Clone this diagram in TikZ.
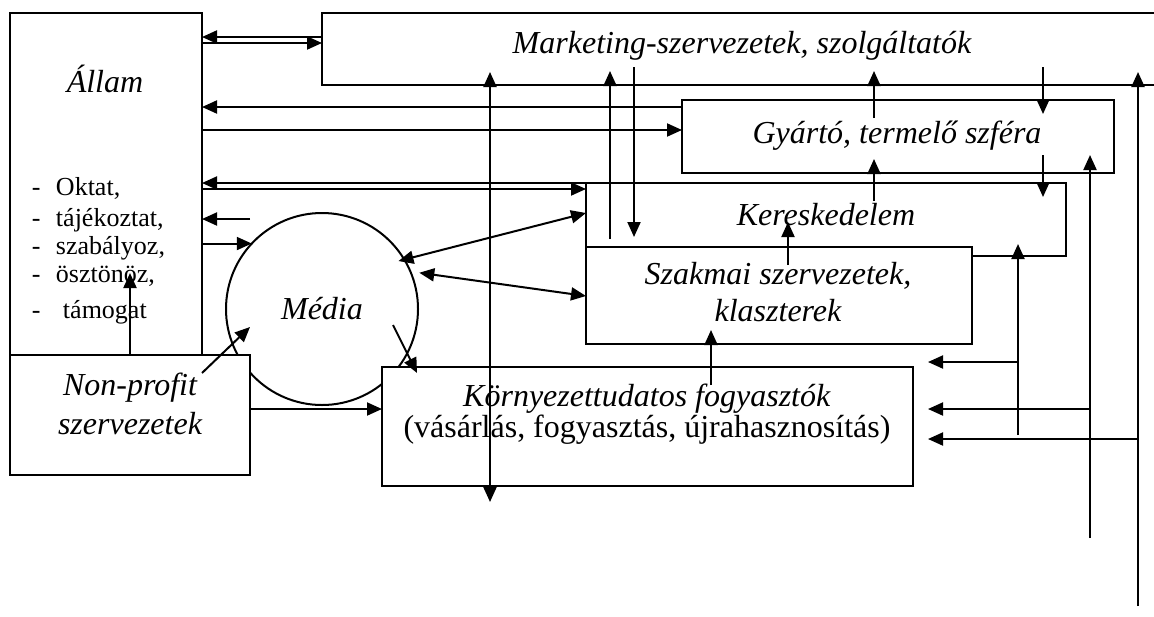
\documentclass[tikz,border=0pt]{standalone}
\usepackage{fontspec}
\setmainfont{Liberation Serif}
\usetikzlibrary{arrows.meta,fit}

\begin{document}
\begin{tikzpicture}[x=0.5pt, y=-0.5pt, line width=1pt, >={Triangle[length=7.5pt,width=6.5pt]}]
            \tikzset{Box/.style={draw, fill=white, inner sep=0pt, outer sep=0pt},
                     Txt/.style={font=\fontsize{16}{19.5}\selectfont\itshape, align=center},
                     Lst/.style={font=\fontsize{13}{15}\selectfont, anchor=base west, inner sep=0pt},
                     Link/.style={->, shorten <=-9pt, shorten >=-7pt}}
            \useasboundingbox (0,0) rectangle (1154,616);
            \node[Box, fit={(10,13) (202,475)}] (allam) {};
            \node[Box, fit={(322,13) (1180,85)}] (mark) {};
            \node[Box, fit={(682,100) (1114,173)}] (gyarto) {};
            \node[Box, fit={(586,183) (1066,256)}] (ker) {};
            \node[Box, fit={(586,247) (972,344)}] (szakmai) {};
            \node[Box, circle, minimum size=96pt, font=\fontsize{16}{19.5}\selectfont\itshape] (media) at (322,309) {Média};
            \node[Box, fit={(10,355) (250,475)}] (nonprofit) {};
            \node[Box, fit={(382,367) (913,486)}] (korny) {};
            \node[Txt] (allamtxt) at (105,79) {Állam};
            \node[Txt] (marktxt) at (742,46) {Marketing-szervezetek, szolgáltatók};
            \node[Txt] (gyartotxt) at (897,136) {Gyártó, termelő szféra};
            \node[Txt] (kertxt) at (826,215) {Kereskedelem};
            \node[Txt, font=\fontsize{16}{18.5}\selectfont\itshape] (szakmaitxt) at (778,292) {Szakmai szervezetek,\\klaszterek};
            \node[Txt] (nonproftxt) at (130,404) {Non-profit\\szervezetek};
            \node[Txt, font=\fontsize{16}{15.5}\selectfont] (kornytxt) at (647,414) {\textit{Környezettudatos fogyasztók}\\(vásárlás, fogyasztás, újrahasznosítás)};
            \node[Lst] (l1) at (31,195) {\makebox[12pt][l]{-}Oktat,};
            \node[Lst] (l2) at (31,226) {\makebox[12pt][l]{-}tájékoztat,};
            \node[Lst] (l3) at (31,254) {\makebox[12pt][l]{-}szabályoz,};
            \node[Lst] (l4) at (31,282) {\makebox[12pt][l]{-}ösztönöz,};
            \node[Lst] (l5) at (31,318) {\makebox[15.5pt][l]{-}támogat};
            \coordinate (tajek) at (250,219);
            \coordinate (r1) at (1018,435);
            \coordinate (r2) at (1090,538);
            \coordinate (r3) at (1138,606);
            \draw[->] (mark.west |- 0,37) -- (allam.east |- 0,37);
            \draw[->] (allam.east |- 0,43) -- (mark.west |- 0,43);
            \draw[->] (gyarto.west |- 0,107) -- (allam.east |- 0,107);
            \draw[->] (allam.east |- 0,130) -- (gyarto.west |- 0,130);
            \draw[->] (ker.west |- 0,183) -- (allam.east |- 0,183);
            \draw[->] (allam.east |- 0,189) -- (ker.west |- 0,189);
            \draw[->] (tajek) -- (allam.east |- tajek);
            \draw[->] (allam.east |- media.137) -- (media.137);
            \draw[->] (nonprofit.north) -- ++(0,-82);
            \draw[->] (nonprofit.north east) ++(-48,18) -- ++(48,-46);
            \draw[->] (nonprofit.east |- 0,409) -- (korny.west |- 0,409);
            \draw[->] (media.east) ++(-25,16) -- ++(24,48);
            \draw[<->, shorten >=-3pt] (ker.west |- 0,213) -- (media.31);
            \draw[<->, shorten >=4.5pt] (szakmai.west |- 0,296) -- (media.23);
            \draw[<->, shorten <=-6.5pt, shorten >=-8pt] (mark.south -| 490,0) -- (korny.south -| 490,0);
            \draw[->, shorten <=4pt, shorten >=-7pt] (szakmai.north -| 610,0) -- (mark.south -| 610,0);
            \draw[Link, shorten >=5pt] (mark.south -| 634,0) -- (szakmai.north -| 634,0);
            \draw[Link] (gyarto.north -| 874,0) -- (mark.south -| 874,0);
            \draw[Link] (mark.south -| 1043,0) -- (gyarto.north -| 1043,0);
            \draw[Link] (ker.north -| 874,0) -- (gyarto.south -| 874,0);
            \draw[Link] (gyarto.south -| 1043,0) -- (ker.north -| 1043,0);
            \draw[->, shorten <=-9pt] (szakmai.north -| 788,0) -- ++(0,-25);
            \draw[Link] (korny.north -| 711,0) -- (szakmai.south -| 711,0);
            \draw[->, shorten >=-6pt] (r1) -- (ker.south -| r1);
            \draw[->, shorten >=-9pt] (r2) -- (gyarto.south -| r2);
            \draw[->, shorten >=-6.5pt] (r3) -- (mark.south -| r3);
            \draw[->, shorten >=7.5pt] (r1 |- 0,362) -- (korny.east |- 0,362);
            \draw[->, shorten >=7.5pt] (r2 |- 0,409) -- (korny.east |- 0,409);
            \draw[->, shorten >=7.5pt] (r3 |- 0,439) -- (korny.east |- 0,439);
        \end{tikzpicture}
\end{document}
